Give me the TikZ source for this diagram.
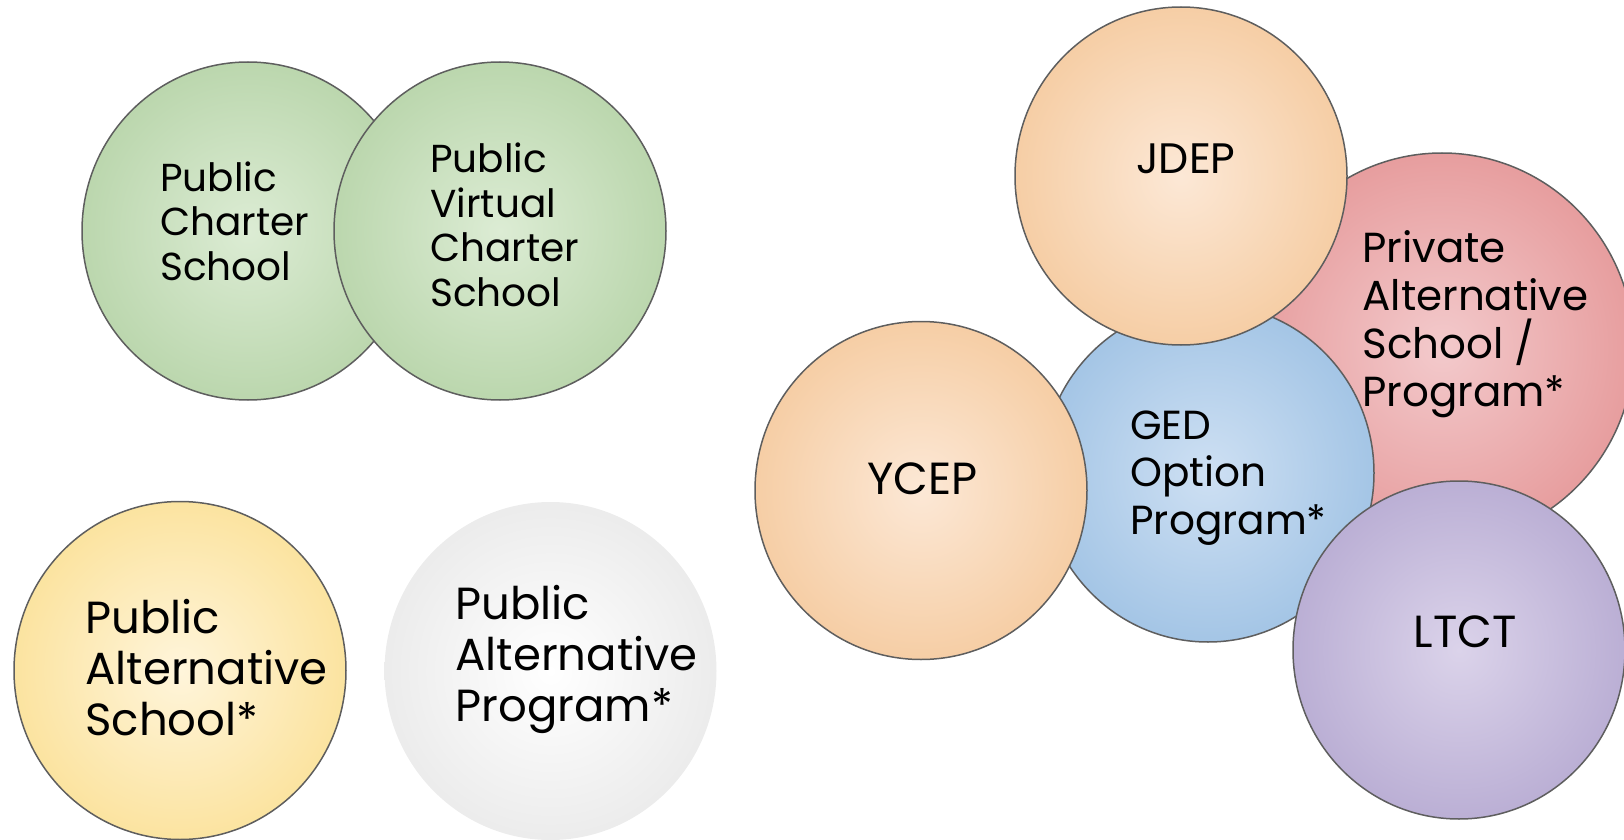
\documentclass[tikz,border=0pt]{standalone}
\usepackage{fontspec}
\setmainfont{Poppins}
\usetikzlibrary{shapes.geometric}

% fill colours: light centre and saturated rim for each bubble
\definecolor{grnIn}{HTML}{DCECD4}  \definecolor{grnOut}{HTML}{A6C995}
\definecolor{ylwIn}{HTML}{FFF5DB}  \definecolor{ylwOut}{HTML}{F9D87A}
\definecolor{gryIn}{HTML}{FFFFFF}  \definecolor{gryOut}{HTML}{DDDDDD}
\definecolor{orgIn}{HTML}{FCE8D6}  \definecolor{orgOut}{HTML}{F2BD86}
\definecolor{bluIn}{HTML}{CEE0F3}  \definecolor{bluOut}{HTML}{89B4DD}
\definecolor{redIn}{HTML}{F3CACC}  \definecolor{redOut}{HTML}{DF8181}
\definecolor{prpIn}{HTML}{DBD3EA}  \definecolor{prpOut}{HTML}{A698C7}
\definecolor{rim}{HTML}{5E5E5E}

% radial gradients: light centre, rim colour reached near the edge
\pgfdeclareradialshading{grnball}{\pgfpoint{0bp}{0bp}}{color(0bp)=(grnIn); color(41bp)=(grnOut); color(50bp)=(grnOut)}
\pgfdeclareradialshading{ylwball}{\pgfpoint{0bp}{0bp}}{color(0bp)=(ylwIn); color(41bp)=(ylwOut); color(50bp)=(ylwOut)}
\pgfdeclareradialshading{gryball}{\pgfpoint{0bp}{0bp}}{color(0bp)=(gryIn); color(44bp)=(gryOut); color(50bp)=(gryOut)}
\pgfdeclareradialshading{orgball}{\pgfpoint{0bp}{0bp}}{color(0bp)=(orgIn); color(41bp)=(orgOut); color(50bp)=(orgOut)}
\pgfdeclareradialshading{bluball}{\pgfpoint{0bp}{0bp}}{color(0bp)=(bluIn); color(41bp)=(bluOut); color(50bp)=(bluOut)}
\pgfdeclareradialshading{redball}{\pgfpoint{0bp}{0bp}}{color(0bp)=(redIn); color(41bp)=(redOut); color(50bp)=(redOut)}
\pgfdeclareradialshading{prpball}{\pgfpoint{0bp}{0bp}}{color(0bp)=(prpIn); color(41bp)=(prpOut); color(50bp)=(prpOut)}

\tikzset{
  bubble/.style={ellipse, inner sep=0pt, outer sep=0pt,
    minimum width=166pt, minimum height=169pt,
    draw=rim, line width=0.75pt, shade},
  bigbubble/.style={bubble, minimum width=192pt, minimum height=195pt},
  % labels are placed by the baseline of their last line
  lbl/.style={anchor=base west, inner sep=0pt, align=left, text=black},
  fsmall/.style={font=\fontsize{19.5}{22.25}\selectfont},
  fged/.style={font=\fontsize{20.3}{23.85}\selectfont},
  fmid/.style={font=\fontsize{21}{23.85}\selectfont},
  fjdep/.style={font=\fontsize{21.3}{24}\selectfont},
  fbig/.style={font=\fontsize{22.5}{25.3}\selectfont},
}

\begin{document}
\begin{tikzpicture}[x=0.5pt, y=-0.5pt]
\clip (0,0) rectangle (1624,840);

% left group: charter schools
\node[bubble, shading=grnball] (pcs)  at (248,231) {};
\node[bubble, shading=grnball] (pvcs) at (500,231) {};
\node[lbl, fsmall] (tpcs)  at (160,280) {Public\\Charter\\School};
\node[lbl, fsmall] (tpvcs) at (430,306.5) {Public\\Virtual\\Charter\\School};

% left group: public alternatives
\node[bubble, shading=ylwball] (pas) at (180,670.5) {};
\node[bubble, shading=gryball, draw=none] (pap) at (550.5,671) {};
\node[lbl, fbig] (tpas) at (85,735) {Public\\Alternative\\School*};
\node[lbl, fbig] (tpap) at (455,721) {Public\\Alternative\\Program*};

% right cluster, back to front
\node[bigbubble, shading=redball] (pasp) at (1442,348) {};
\node[bubble, shading=bluball] (ged)  at (1208,473) {};
\node[bubble, shading=orgball] (ycep) at (921,490.5) {};
\node[bubble, shading=orgball] (jdep) at (1181,176) {};
\node[bubble, shading=prpball] (ltct) at (1459,650) {};

\node[lbl, fmid] (tpasp) at (1362,406) {Private\\Alternative\\School /\\Program*};
\node[lbl, fged] (tged)  at (1130,534.5) {GED\\Option\\Program*};
\node[lbl, fbig] (tycep) at (867,494) {YCEP};
\node[lbl, fjdep] (tjdep) at (1136,173.5) {JDEP};
\node[lbl, fbig] (tltct) at (1413.5,647.7) {LTCT};
\end{tikzpicture}
\end{document}
